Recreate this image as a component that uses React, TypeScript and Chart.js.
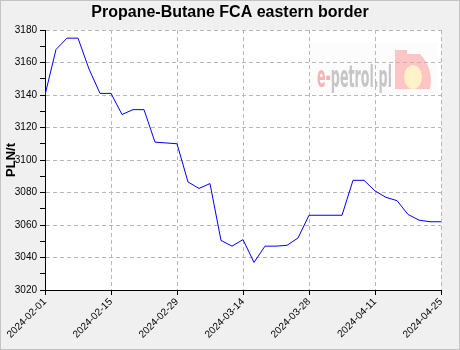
import React, { useEffect, useRef } from "react";
import { Chart, registerables } from "chart.js";

Chart.register(...registerables);

const TITLE = "Propane-Butane FCA eastern border";
const Y_TITLE = "PLN/t";
const X_TICK_LABELS = [
  "2024-02-01",
  "2024-02-15",
  "2024-02-29",
  "2024-03-14",
  "2024-03-28",
  "2024-04-11",
  "2024-04-25",
];
const PRICES = [
  3140, 3168, 3175, 3175, 3156, 3141, 3141, 3128, 3131, 3131, 3111, 3110.5,
  3110, 3086.5, 3082.5, 3085.5, 3050.5, 3047, 3051, 3037, 3047, 3047, 3047.5,
  3052, 3066, 3066, 3066, 3066, 3087.5, 3087.5, 3081, 3077, 3075, 3066.5, 3063,
  3062, 3062,
];
const Y_MIN = 3020;
const Y_MAX = 3180;
const Y_STEP = 10;
const Y_LABEL_STEP = 20;
const X_LABEL_STEP = 6;
const WATERMARK_A = "e-";
const WATERMARK_B = "petrol.pl";

const FONT = "'Liberation Sans', Arial, sans-serif";

const backgroundPlugin = {
  id: "bgAndWatermark",
  beforeDraw(chart: any) {
    const { ctx, width, height, chartArea: a } = chart;
    ctx.save();
    ctx.fillStyle = "#f0f0f0";
    ctx.fillRect(0, 0, width, height);
    ctx.fillStyle = "#ffffff";
    ctx.fillRect(a.left, a.top, a.right - a.left, a.bottom - a.top);

    // watermark
    const bx = a.right - 131;
    const by = a.top + 13;
    ctx.fillStyle = "#fcfcfc";
    ctx.fillRect(bx, by, 128, 50);
    // logo
    ctx.fillStyle = "#ffc4c4";
    ctx.fillRect(bx + 85, by + 7, 12, 39);
    ctx.beginPath();
    ctx.moveTo(bx + 97, by + 11);
    ctx.lineTo(bx + 110, by + 11);
    ctx.quadraticCurveTo(bx + 124, by + 26, bx + 120, by + 46);
    ctx.lineTo(bx + 97, by + 46);
    ctx.closePath();
    ctx.fill();
    ctx.fillStyle = "#fff1c8";
    ctx.beginPath();
    ctx.ellipse(bx + 103, by + 34, 9, 12, 0, 0, Math.PI * 2);
    ctx.fill();
    // text
    ctx.font = `bold 30px 'Liberation Sans Narrow', 'DejaVu Sans Condensed', ${FONT}`;
    ctx.textBaseline = "alphabetic";
    ctx.textAlign = "left";
    const wa = ctx.measureText(WATERMARK_A).width;
    const wb = ctx.measureText(WATERMARK_B).width;
    const sx = 75 / (wa + wb);
    ctx.translate(bx + 7, by + 44);
    ctx.scale(sx, 1);
    ctx.fillStyle = "#f6b4b4";
    ctx.fillText(WATERMARK_A, 0, 0);
    ctx.fillStyle = "#c6c6c6";
    ctx.fillText(WATERMARK_B, wa, 0);
    ctx.restore();
  },
  afterDraw(chart: any) {
    const { ctx, width, height, chartArea: a } = chart;
    ctx.save();
    ctx.fillStyle = "#000";
    ctx.textAlign = "center";
    ctx.textBaseline = "middle";
    ctx.font = `bold 16px ${FONT}`;
    ctx.fillText(TITLE, width / 2, 13);
    ctx.translate(11, (a.top + a.bottom) / 2);
    ctx.rotate(-Math.PI / 2);
    ctx.font = `bold 13px ${FONT}`;
    ctx.fillText(Y_TITLE, 0, 0);
    ctx.restore();
    ctx.save();
    ctx.strokeStyle = "#c4c4c4";
    ctx.lineWidth = 1;
    ctx.strokeRect(0.5, 0.5, width - 1, height - 1);
    ctx.restore();
  },
};

export default function App() {
  const canvasRef = useRef<HTMLCanvasElement | null>(null);

  useEffect(() => {
    const canvas = canvasRef.current;
    if (!canvas) return;
    const chart = new Chart(canvas, {
      type: "line",
      data: {
        datasets: [
          {
            data: PRICES.map((y, i) => ({ x: i, y })),
            borderColor: "#0000ff",
            borderWidth: 1,
            pointRadius: 0,
            tension: 0,
            fill: false,
          },
        ],
      },
      options: {
        animation: false,
        responsive: false,
        devicePixelRatio: 1,
        layout: { padding: { top: 30, right: 19, left: 0, bottom: 0 } },
        plugins: {
          legend: { display: false },
          tooltip: { enabled: false },
          title: { display: false },
        },
        scales: {
          x: {
            type: "linear",
            min: 0,
            max: PRICES.length - 1,
            afterFit(s: any) {
              s.height = 60;
            },
            ticks: {
              stepSize: X_LABEL_STEP,
              autoSkip: false,
              minRotation: 45,
              maxRotation: 45,
              color: "#000",
              padding: 1,
              font: { family: FONT, size: 10 },
              callback: (v: any) => X_TICK_LABELS[Math.round(v / X_LABEL_STEP)] ?? "",
            },
            grid: {
              color: "#b8b8b8",
              tickColor: "#000",
              tickLength: 5,
              lineWidth: 1,
            },
            border: { display: true, color: "#000", width: 1, dash: [4, 3] },
          },
          y: {
            type: "linear",
            min: Y_MIN,
            max: Y_MAX,
            afterFit(s: any) {
              s.width = 45;
            },
            ticks: {
              stepSize: Y_STEP,
              autoSkip: false,
              color: "#000",
              padding: 3,
              font: { family: FONT, size: 10 },
              callback: (v: any) => (v % Y_LABEL_STEP === 0 ? String(v) : ""),
            },
            grid: {
              color: (c: any) =>
                c.tick && c.tick.value % Y_LABEL_STEP === 0 ? "#b8b8b8" : "rgba(0,0,0,0)",
              tickColor: "#000",
              tickLength: 5,
              lineWidth: 1,
            },
            border: { display: true, color: "#000", width: 1, dash: [4, 3] },
          },
        },
      },
      plugins: [backgroundPlugin],
    } as any);
    return () => chart.destroy();
  }, []);

  return (
    <div style={{ position: "absolute", left: 0, top: 0, width: 460, height: 350 }}>
      <canvas ref={canvasRef} width={460} height={350} style={{ display: "block" }} />
    </div>
  );
}
